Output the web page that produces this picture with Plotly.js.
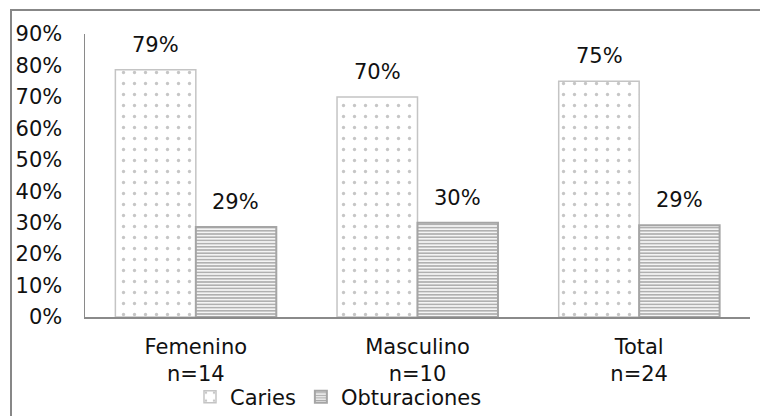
<!DOCTYPE html>
<html>
<head>
<meta charset="utf-8">
<script src="https://cdn.plot.ly/plotly-3.0.1.min.js"></script>
<style>
html,body{margin:0;padding:0;background:#fff;overflow:hidden;}
#wrap{position:relative;width:760px;height:416px;overflow:hidden;}
#frame{position:absolute;left:10px;top:9px;width:900px;height:600px;border-left:2px solid #878787;border-top:2px solid #878787;pointer-events:none;z-index:5;}
#chart{position:absolute;left:0;top:0;width:760px;height:416px;}
</style>
</head>
<body>
<div id="wrap">
<div id="chart"></div>
<div id="frame"></div>
</div>
<script>
const categories = ["Femenino<br>n=14", "Masculino<br>n=10", "Total<br>n=24"];
const caries = [0.786, 0.70, 0.75];
const obturaciones = [0.286, 0.30, 0.292];
const seriesNames = ["Caries", "Obturaciones"];
const yTickVals = [0, 0.1, 0.2, 0.3, 0.4, 0.5, 0.6, 0.7, 0.8, 0.9];

const FONT = "DejaVu Sans, Verdana, sans-serif";
const FS = 21;

const traces = [
  {
    type: "bar", name: seriesNames[0], x: categories, y: caries,
    marker: {
      color: "#ffffff",
      line: {color: "#c4c4c4", width: 1.5},
      pattern: {shape: ".", fgcolor: "#c6c6c6", bgcolor: "#ffffff", size: 11, solidity: 0.07}
    },
    hoverinfo: "none"
  },
  {
    type: "bar", name: seriesNames[1], x: categories, y: obturaciones,
    marker: {
      color: "#ffffff",
      line: {color: "#a5a5a5", width: 2},
      pattern: {shape: "-", fgcolor: "#a8a8a8", bgcolor: "#f4f4f4", size: 3.2, solidity: 0.45}
    },
    hoverinfo: "none"
  }
];

const annotations = [];
categories.forEach((c, i) => {
  annotations.push({x: c, y: caries[i], xref: "x", yref: "y", text: Math.round(caries[i]*100) + "%",
    showarrow: false, xshift: -40, yshift: 25, font: {family: FONT, size: FS, color: "#111"}});
  annotations.push({x: c, y: obturaciones[i], xref: "x", yref: "y", text: Math.round(obturaciones[i]*100) + "%",
    showarrow: false, xshift: 40, yshift: 25, font: {family: FONT, size: FS, color: "#111"}});
});

const layout = {
  width: 760, height: 416,
  margin: {l: 85, r: 10, t: 34, b: 99, autoexpand: false},
  paper_bgcolor: "#ffffff", plot_bgcolor: "#ffffff",
  font: {family: FONT, size: FS, color: "#111"},
  barmode: "group", bargap: 0.274, bargroupgap: 0,
  xaxis: {
    type: "category", showgrid: false, zeroline: false, automargin: false,
    showline: true, linecolor: "#8a8a8a", linewidth: 1.5,
    ticks: "", ticklabelstandoff: 10,
    tickfont: {family: FONT, size: FS, color: "#111"}
  },
  yaxis: {
    range: [0, 0.9], tickvals: yTickVals, tickformat: ".0%", automargin: false,
    showgrid: false, zeroline: false,
    showline: true, linecolor: "#8a8a8a", linewidth: 1.5,
    ticks: "", ticklabelstandoff: 17,
    tickfont: {family: FONT, size: FS, color: "#111"}
  },
  showlegend: true,
  legend: {
    orientation: "h", xref: "container", yref: "container",
    x: 0.25, xanchor: "left", y: 0.095, yanchor: "top",
    font: {family: FONT, size: FS, color: "#111"},
    itemwidth: 30, tracegroupgap: 0, bgcolor: "rgba(0,0,0,0)"
  },
  annotations: annotations
};

Plotly.newPlot("chart", traces, layout, {displayModeBar: false, staticPlot: true});
</script>
</body>
</html>
